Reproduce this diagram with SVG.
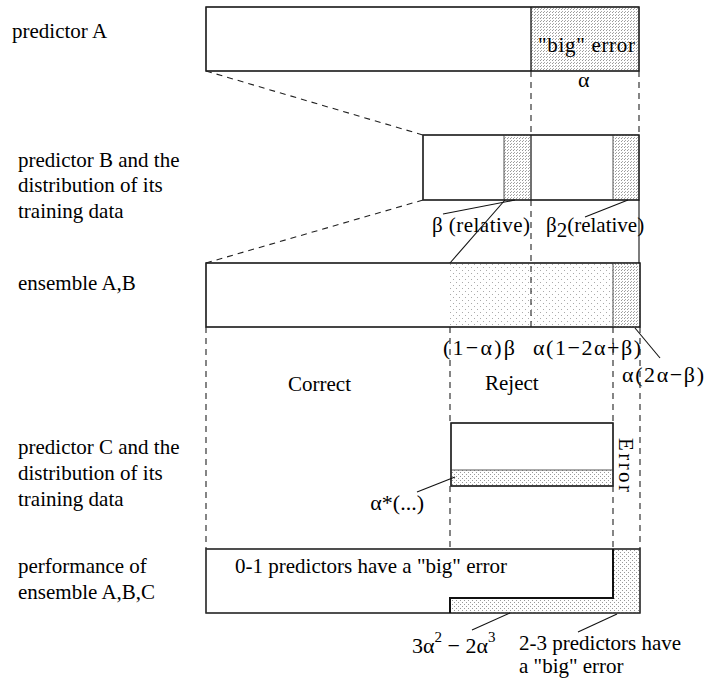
<svg xmlns="http://www.w3.org/2000/svg" width="707" height="683" viewBox="0 0 707 683">
<defs>
<pattern id="dense" width="3" height="3" patternUnits="userSpaceOnUse"><rect x="0" y="0" width="1" height="1" fill="#999"/><rect x="1" y="2" width="1" height="1" fill="#aaa"/></pattern>
<pattern id="medium" width="4" height="4" patternUnits="userSpaceOnUse"><rect x="0" y="0" width="1" height="1" fill="#999"/><rect x="2" y="2" width="1" height="1" fill="#999"/></pattern>
<pattern id="sparse" width="6" height="6" patternUnits="userSpaceOnUse"><rect x="0" y="0" width="1" height="1" fill="#aaa"/><rect x="3" y="3" width="1" height="1" fill="#aaa"/></pattern>
</defs>
<style>
text{font-family:"Liberation Serif","Times New Roman",serif;font-size:21px;fill:#000}
.box{fill:#fff;stroke:#222;stroke-width:1.2}
.dash{fill:none;stroke:#222;stroke-width:1.1;stroke-dasharray:6 5}
.lead{fill:none;stroke:#111;stroke-width:1.1}
.thin{fill:none;stroke:#555;stroke-width:1}
.math{font-size:22px}
</style>
<rect width="707" height="683" fill="#fff"/>

<g id="predictorA">
<rect class="box" x="206" y="7" width="433" height="64"/>
<rect x="531" y="7" width="108" height="64" fill="url(#dense)"/>
<rect x="206" y="7" width="433" height="64" fill="none" stroke="#222" stroke-width="1.2"/>
<line x1="531" y1="7" x2="531" y2="71" stroke="#111" stroke-width="1.3"/>
<text x="12" y="38">predictor A</text>
<text x="538" y="52" textLength="97">"big" error</text>
<text x="578" y="87" class="math">α</text>
</g>

<g id="predictorB">
<rect class="box" x="423" y="135" width="216" height="65"/>
<rect x="504" y="135" width="27" height="65" fill="url(#dense)"/>
<rect x="613" y="135" width="26" height="65" fill="url(#dense)"/>
<line class="thin" x1="504" y1="135" x2="504" y2="200"/>
<line class="thin" x1="613" y1="135" x2="613" y2="200"/>
<line x1="531" y1="135" x2="531" y2="200" stroke="#111" stroke-width="1.2"/>
<rect x="423" y="135" width="216" height="65" fill="none" stroke="#222" stroke-width="1.2"/>
<text x="18" y="167">predictor B and the</text>
<text x="18" y="192">distribution of its</text>
<text x="18" y="218">training data</text>
<text x="432" y="232" textLength="98">β (relative)</text>
<text x="546" y="232">β<tspan dy="5">2</tspan><tspan dy="-5">(relative)</tspan></text>
</g>

<g id="ensembleAB">
<rect class="box" x="206" y="263" width="434" height="64"/>
<rect x="450" y="263" width="163" height="64" fill="url(#sparse)"/>
<rect x="613" y="263" width="27" height="64" fill="url(#dense)"/>
<line class="thin" x1="613" y1="263" x2="613" y2="327"/>
<rect x="206" y="263" width="434" height="64" fill="none" stroke="#222" stroke-width="1.2"/>
<text x="18" y="290">ensemble A,B</text>
<text x="443" y="355" class="math" textLength="72">(1−α)β</text>
<text x="533" y="355" class="math" textLength="108">α(1−2α+β)</text>
<text x="622" y="382" class="math" textLength="82">α(2α−β)</text>
<text x="288" y="391">Correct</text>
<text x="485" y="390">Reject</text>
</g>

<g id="predictorC">
<rect class="box" x="451" y="423" width="162" height="63"/>
<rect x="451" y="470" width="162" height="16" fill="url(#medium)"/>
<line class="thin" x1="451" y1="470" x2="613" y2="470"/>
<rect x="451" y="423" width="162" height="63" fill="none" stroke="#222" stroke-width="1.3"/>
<text x="18" y="454">predictor C and the</text>
<text x="18" y="480">distribution of its</text>
<text x="18" y="506">training data</text>
<text transform="translate(619,438) rotate(90)" textLength="54">Error</text>
<text x="424" y="510" text-anchor="end" class="math">α*(...)</text>
</g>

<g id="ensembleABC">
<rect class="box" x="206" y="549" width="434" height="64"/>
<path d="M450,613 V598 H613 V549 H640 V613 Z" fill="url(#medium)"/>
<rect x="206" y="549" width="434" height="64" fill="none" stroke="#333" stroke-width="1.2"/>
<path d="M450,613 V598 H613 V549" fill="none" stroke="#111" stroke-width="2"/>
<text x="18" y="573">performance of</text>
<text x="18" y="599">ensemble A,B,C</text>
<text x="235" y="573">0-1 predictors have a "big" error</text>
<text x="412" y="653" class="math">3α<tspan dy="-11" font-size="15">2</tspan><tspan dy="11"> − 2α</tspan><tspan dy="-11" font-size="15">3</tspan></text>
<text x="519" y="650">2-3 predictors have</text>
<text x="519" y="673">a "big" error</text>
</g>

<g id="connectors">
<path class="dash" d="M206,71 L423,135"/>
<path class="dash" d="M423,200 L206,263"/>
<path class="dash" d="M531,71 V135"/>
<path class="dash" d="M531,200 V327"/>
<path class="dash" d="M639,71 V135"/>
<path class="lead" d="M639,200 V263"/>
<path class="dash" d="M206,327 V549"/>
<path class="dash" d="M450,327 V423 M450,486 V549"/>
<path class="dash" d="M613,327 V423 M613,486 V549"/>
<path class="dash" d="M640,327 V549"/>
<path class="lead" d="M443,214 L515,200"/>
<path class="lead" d="M505,200 L450,263"/>
<path class="lead" d="M585,217 L628,200"/>
<path class="lead" d="M635,328 L660,358"/>
<path class="lead" d="M417,492 L455,477"/>
<path class="lead" d="M510,613 L472,630"/>
<path class="lead" d="M617,614 L578,632"/>
</g>
</svg>
